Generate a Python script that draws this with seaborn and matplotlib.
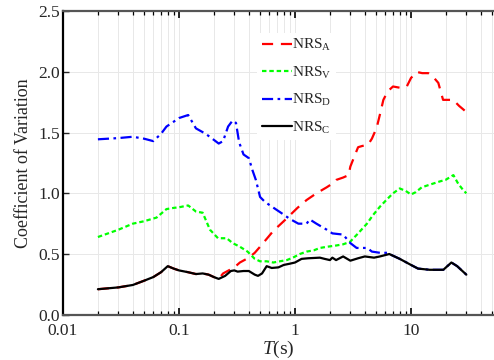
import numpy as np
import pandas as pd
import matplotlib
matplotlib.use("Agg")
import matplotlib.pyplot as plt
import seaborn as sns
from matplotlib.ticker import LogLocator, NullFormatter

# Dados
T_C = [0.02, 0.03, 0.04, 0.05, 0.06, 0.07, 0.08, 0.09, 0.1, 0.12, 0.14, 0.16, 0.18,
       0.2, 0.22, 0.25, 0.28, 0.3, 0.32, 0.36, 0.4, 0.45, 0.48, 0.52, 0.57, 0.63,
       0.72, 0.8, 0.9, 1.0, 1.14, 1.3, 1.64, 1.8, 2.0, 2.1, 2.26, 2.6, 3.0, 3.5,
       4.0, 4.8, 5.4, 6.5, 8.0, 10, 11.5, 14.5, 19, 22.3, 25, 30]
CV_C = [0.21, 0.225, 0.245, 0.28, 0.31, 0.35, 0.40, 0.38, 0.365, 0.35, 0.335, 0.34, 0.33,
        0.31, 0.295, 0.32, 0.36, 0.365, 0.355, 0.36, 0.36, 0.33, 0.32, 0.34, 0.40, 0.385,
        0.39, 0.41, 0.42, 0.43, 0.46, 0.465, 0.47, 0.46, 0.45, 0.47, 0.45, 0.48, 0.445, 0.465,
        0.48, 0.47, 0.48, 0.50, 0.46, 0.41, 0.38, 0.37, 0.37, 0.43, 0.40, 0.33]

T_A = [0.02, 0.03, 0.04, 0.05, 0.06, 0.07, 0.08, 0.09, 0.1, 0.12, 0.14, 0.16, 0.18,
       0.2, 0.22, 0.24, 0.3, 0.335, 0.4, 0.45, 0.5, 0.65, 0.82, 1.05, 1.26, 1.53, 1.88,
       2.1, 2.26, 2.6, 2.9, 3.0, 3.3, 3.5, 3.8, 4.26, 4.6, 5.06, 5.4, 5.78, 6.3, 7.0,
       8.0, 9.2, 10, 11.2, 12.5, 14.1, 15.5, 17.2, 18.9, 21, 23.1, 26, 30]
CV_A = [0.21, 0.225, 0.245, 0.28, 0.31, 0.35, 0.40, 0.38, 0.365, 0.35, 0.335, 0.34, 0.33,
        0.31, 0.295, 0.34, 0.39, 0.43, 0.47, 0.51, 0.56, 0.69, 0.78, 0.88, 0.945, 1.0, 1.05,
        1.08, 1.11, 1.13, 1.15, 1.22, 1.32, 1.38, 1.39, 1.40, 1.45, 1.54, 1.65, 1.77, 1.84, 1.88,
        1.87, 1.88, 1.95, 2.0, 1.99, 1.99, 1.96, 1.91, 1.77, 1.77, 1.77, 1.72, 1.67]

T_V = [0.02, 0.03, 0.04, 0.05, 0.064, 0.078, 0.09, 0.1, 0.12, 0.14, 0.16, 0.185, 0.217,
       0.258, 0.29, 0.335, 0.39, 0.45, 0.5, 0.57, 0.65, 0.74, 0.85, 0.96, 1.1, 1.26, 1.45,
       1.64, 1.9, 2.26, 2.6, 2.98, 3.5, 4.17, 4.7, 5.4, 6.2, 7.0, 8.0, 9.0, 10, 11, 12.4,
       15.5, 18, 19.8, 23.2, 25.5, 28, 30]
CV_V = [0.64, 0.70, 0.75, 0.77, 0.80, 0.87, 0.88, 0.885, 0.90, 0.85, 0.84, 0.70, 0.63,
        0.63, 0.59, 0.56, 0.52, 0.46, 0.44, 0.44, 0.43, 0.44, 0.45, 0.47, 0.50, 0.52, 0.53,
        0.55, 0.56, 0.57, 0.58, 0.60, 0.67, 0.75, 0.82, 0.89, 0.95, 1.00, 1.04, 1.02, 0.99, 1.01, 1.05,
        1.08, 1.10, 1.11, 1.15, 1.08, 1.03, 1.00]

T_D = [0.02, 0.03, 0.04, 0.05, 0.06, 0.07, 0.078, 0.09, 0.1, 0.12, 0.14, 0.17, 0.2,
       0.22, 0.24, 0.265, 0.29, 0.31, 0.33, 0.36, 0.40, 0.43, 0.46, 0.5, 0.55, 0.61, 0.77,
       0.9, 1.07, 1.26, 1.34, 1.53, 1.88, 2.1, 2.6, 3.0, 3.4, 4.2, 4.6, 5.4, 6.3, 6.5,
       8.0, 10, 11.5, 14.5, 19, 22.3, 25, 30]
CV_D = [1.445, 1.455, 1.466, 1.45, 1.43, 1.49, 1.55, 1.59, 1.62, 1.645, 1.535, 1.49, 1.44,
        1.41, 1.43, 1.55, 1.60, 1.58, 1.42, 1.32, 1.29, 1.19, 1.11, 0.97, 0.93, 0.90, 0.835,
        0.79, 0.75, 0.75, 0.785, 0.75, 0.70, 0.67, 0.66, 0.59, 0.55, 0.55, 0.52, 0.51, 0.51, 0.50,
        0.46, 0.41, 0.38, 0.37, 0.37, 0.43, 0.40, 0.33]

sns.set_style("white")
plt.rcParams['font.family'] = ['Liberation Serif', 'DejaVu Serif']
plt.rcParams['mathtext.fontset'] = 'custom'
plt.rcParams['mathtext.rm'] = 'Liberation Serif'
plt.rcParams['mathtext.it'] = 'Liberation Serif:italic'

fig = plt.figure(figsize=(4.94, 3.6), dpi=100)
ax = fig.add_axes([0.1275, 0.1258, 0.8725, 0.843])

series = [
    (T_A, CV_A, r'NRS$_\mathrm{A}$', '#ff0000', (0, (5, 3.5))),
    (T_V, CV_V, r'NRS$_\mathrm{V}$', '#00ff00', (0, (2, 1.3))),
    (T_D, CV_D, r'NRS$_\mathrm{D}$', '#0000ff', (0, (5, 2, 1.2, 2))),
    (T_C, CV_C, r'NRS$_\mathrm{C}$', '#000000', '-'),
]
for T, cv, lab, cor, ls in series:
    df = pd.DataFrame({'T': T, 'CV': cv})
    sns.lineplot(data=df, x='T', y='CV', ax=ax, color=cor, linestyle=ls,
                 linewidth=1.6, label=lab, estimator=None, sort=False)

ax.set_xscale('log')
ax.set_xlim(0.01, 51.95)
ax.set_ylim(0, 2.5)
ax.set_yticks([0, 0.5, 1.0, 1.5, 2.0, 2.5])
ax.set_yticklabels(['0.0', '0.5', '1.0', '1.5', '2.0', '2.5'])
ax.set_xticks([0.01, 0.1, 1, 10])
ax.set_xticklabels(['0.01', '0.1', '1', '10'])
ax.xaxis.set_minor_locator(LogLocator(base=10, subs=np.arange(2, 10), numticks=20))
ax.xaxis.set_minor_formatter(NullFormatter())

ax.grid(True, which='both', axis='x', color='#e8e8e8', linewidth=0.7)
ax.grid(True, which='major', axis='y', color='#e8e8e8', linewidth=0.7)
ax.set_axisbelow(True)

ax.tick_params(axis='x', which='both', direction='in', top=True, bottom=True,
               labelsize=12.5, pad=6, color='black')
ax.tick_params(axis='x', which='major', length=5, width=1.2)
ax.tick_params(axis='x', which='minor', length=3, width=0.9)
ax.tick_params(axis='y', which='major', direction='in', left=True, length=4,
               width=1.0, labelsize=12.5, pad=2)

for s in ['left', 'top', 'bottom']:
    ax.spines[s].set_visible(True)
ax.spines['right'].set_visible(False)
ax.spines['left'].set_color('black')
ax.spines['left'].set_linewidth(1.6)
ax.spines['top'].set_color('#555555')
ax.spines['top'].set_linewidth(1.6)
ax.spines['bottom'].set_color('#555555')
ax.spines['bottom'].set_linewidth(1.6)

ax.set_xlabel(r'$T$(s)', fontsize=14, labelpad=0)
ax.set_ylabel('Coefficient of Variation', fontsize=13, labelpad=5)

leg = ax.legend(loc='upper left', bbox_to_anchor=(0.433, 0.955), frameon=True,
                fontsize=11, handlelength=2.0, handletextpad=0.0,
                labelspacing=0.75, borderpad=0.3)
leg.get_frame().set_edgecolor('none')
leg.get_frame().set_facecolor('white')
leg.get_frame().set_alpha(1.0)

fig.savefig('out.png', dpi=100)
